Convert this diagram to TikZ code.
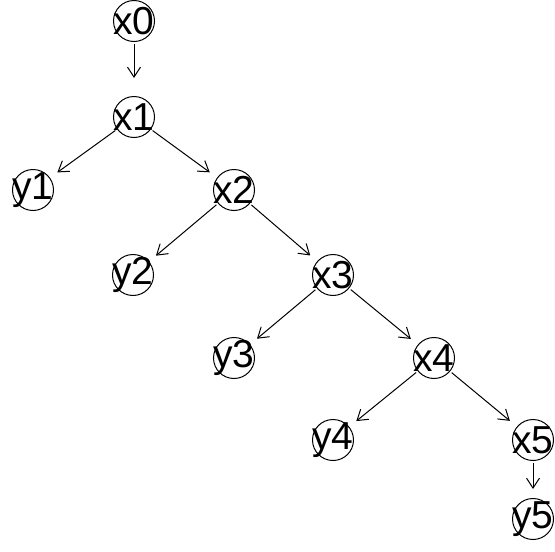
\documentclass[tikz,border=0pt]{standalone}
\usepackage{fontspec}
\setmainfont{Liberation Sans}
\usetikzlibrary{arrows.meta}

\tikzset{
    vert/.style={circle, draw, line width=1pt, minimum size=41pt, inner sep=0pt,
        label={[font=\fontsize{39}{39}\selectfont, inner sep=0pt]center:#1}},
    arr/.style={-{Straight Barb[length=10pt, width=13pt]}, line width=1pt,
        shorten <=2pt, shorten >=9pt}
}

\begin{document}
\begin{tikzpicture}[x=1pt, y=-1pt]
    \useasboundingbox (0,0) rectangle (555,552);

    % Knoten
    \node[vert=x0] (x0) at (134,21) {};
    \node[vert=x1] (x1) at (134,117) {};
    \node[vert=y1] (y1) at (33,190) {};
    \node[vert=x2] (x2) at (234,190) {};
    \node[vert=y2] (y2) at (133,275) {};
    \node[vert=x3] (x3) at (333,275) {};
    \node[vert=y3] (y3) at (234,358) {};
    \node[vert=x4] (x4) at (434,358) {};
    \node[vert=y4] (y4) at (333,440) {};
    \node[vert=x5] (x5) at (533,440) {};
    \node[vert=y5] (y5) at (533,519) {};

    % Kanten
    \draw[arr, shorten >=18pt] (x0) -- (x1);
    \draw[arr] (x1) -- (y1);
    \draw[arr] (x1) -- (x2);
    \draw[arr] (x2) -- (y2);
    \draw[arr] (x2) -- (x3);
    \draw[arr] (x3) -- (y3);
    \draw[arr] (x3) -- (x4);
    \draw[arr] (x4) -- (y4);
    \draw[arr] (x4) -- (x5);
    \draw[arr] (x5) -- (y5);
\end{tikzpicture}
\end{document}
